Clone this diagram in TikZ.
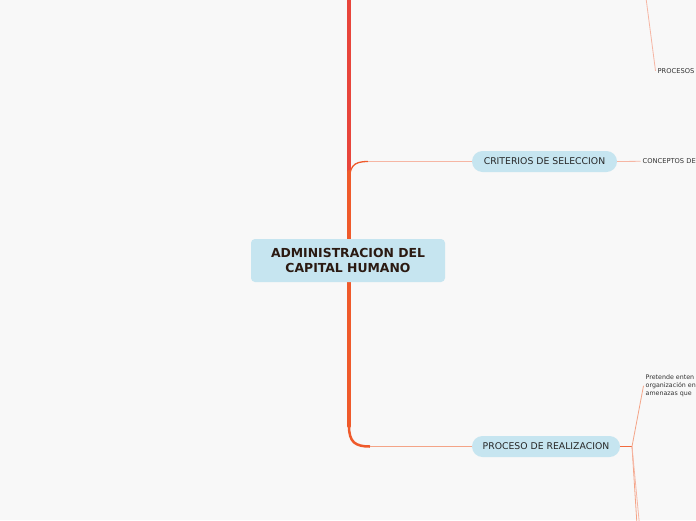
\documentclass[tikz,border=0pt]{standalone}
\usepackage{fontspec}
\setmainfont{DejaVu Sans}
\definecolor{bg}{HTML}{F8F8F8}
\definecolor{boxfill}{HTML}{C6E5F0}
\definecolor{maintext}{HTML}{2B1A12}
\definecolor{trunkred}{HTML}{E8453B}
\definecolor{trunkorange}{HTML}{EF5A2B}
\definecolor{thinsalmon}{HTML}{F6B6A4}
\definecolor{salmon}{HTML}{F4A487}
\definecolor{stubor}{HTML}{F26A3E}
\begin{document}
\begin{tikzpicture}[x=1pt,y=-1pt,
  mainbox/.style={fill=boxfill, rounded corners=4pt, minimum width=194pt, minimum height=43pt,
    align=center, text=maintext, font=\bfseries\fontsize{12.4}{15}\selectfont, inner sep=0pt},
  pill/.style={fill=boxfill, rounded corners=10.5pt, minimum height=21pt, inner sep=0pt,
    text=black!85, font=\fontsize{9.3}{10}\selectfont},
  smalltext/.style={text=black!80, inner sep=2pt, font=\fontsize{6.7}{8}\selectfont, align=left},
  thinl/.style={draw=thinsalmon, line width=0.8pt},
  salmonl/.style={draw=salmon, line width=0.8pt},
  trunk/.style={line width=4pt, line cap=round},
]
\useasboundingbox (0,0) rectangle (696,520);
\fill[bg] (0,0) rectangle (696,520);
\clip (0,0) rectangle (696,520);

% coordinates
\coordinate (t0) at (349,-5);
\coordinate (tm) at (349,178);
\coordinate (tb) at (349,426);
\coordinate (tp) at (646,-2);
\coordinate (pj) at (632,446.5);
\coordinate (b1) at (637,525);
\coordinate (b2) at (639.5,525);

% trunk
\draw[trunk, draw=trunkred] (t0) -- (tm);
\draw[trunk, draw=trunkorange] (349,172) -- (tb);

% nodes
\node[pill, minimum width=145pt] (cr) at (544.5,161.5) {CRITERIOS DE SELECCION};
\node[pill, minimum width=148pt] (pr) at (546,446.5) {PROCESO DE REALIZACION};
\node[smalltext, anchor=west] (co) at (640.5,161.3) {CONCEPTOS DE};
\node[smalltext, anchor=west] (ps) at (655.5,70.8) {PROCESOS};
\node[smalltext, anchor=north west, font=\fontsize{6.3}{8}\selectfont] (pt) at (643.5,372.5) {Pretende enten\\organización en\\amenazas que};

% branch to criterios
\draw[draw=trunkorange, line width=1.3pt] (349,186) .. controls (349,166) and (353,161.5) .. (368,161.5);
\draw[thinl] (368,161.5) -- (cr.west);
% branch to proceso
\draw[draw=trunkorange, line width=2.5pt] (tb) .. controls (349,442) and (355,446.5) .. (370,446.5);
\draw[salmonl] (370,446.5) -- (pr.west);

% right side connectors
\draw[thinl] (cr.east) -- (co.west);
\draw[thinl] (tp) -- (ps.west);
\draw[draw=stubor, line width=1pt] (pr.east) -- (pj);
\draw[salmonl] (pj) -- (pt.west);
\draw[salmonl] (pj) -- (b1);
\draw[thinl] (pj) -- (b2);

% central node on top of trunk
\node[mainbox] (c) at (348,260.5) {ADMINISTRACION DEL\\CAPITAL HUMANO};
\end{tikzpicture}
\end{document}
